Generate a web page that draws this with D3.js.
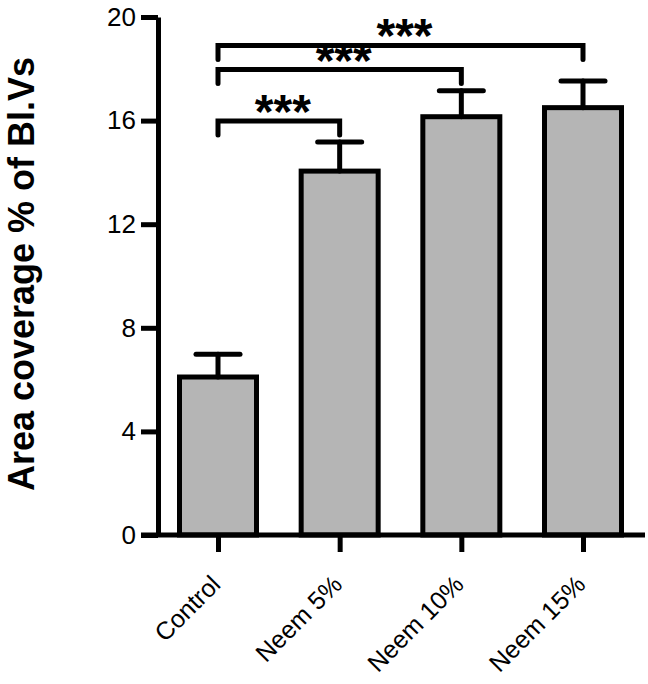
<!DOCTYPE html>
<html><head><meta charset="utf-8">
<script src="https://cdn.jsdelivr.net/npm/d3@7"></script>
<style>body{margin:0;background:#fff}svg{display:block}</style>
</head><body>
<svg id="c" width="648" height="684"></svg>
<script>
const categories = ["Control", "Neem 5%", "Neem 10%", "Neem 15%"];
const means = [6.1, 14.05, 16.15, 16.5];
const errors = [0.88, 1.12, 1.0, 1.03];
const yTicks = [0, 4, 8, 12, 16, 20];
const brackets = [
  {from: "Control", to: "Neem 5%", level: 15.98, label: "***"},
  {from: "Control", to: "Neem 10%", level: 17.97, label: "***"},
  {from: "Control", to: "Neem 15%", level: 18.9, label: "***"}
];
const yTitle = "Area coverage % of Bl.Vs";

const svg = d3.select("#c");
const font = "'Liberation Sans', Arial, sans-serif";
const x = d3.scalePoint().domain(categories).range([218, 583]);
const y = d3.scaleLinear().domain([0, 20]).range([535, 17]);
const barW = 77, sw = 5, capW = 44, drop = 14;

// bars
svg.append("g").selectAll("rect").data(categories).join("rect")
  .attr("x", d => x(d) - barW / 2)
  .attr("y", (d, i) => y(means[i]))
  .attr("width", barW)
  .attr("height", (d, i) => y(0) - y(means[i]))
  .attr("fill", "#b5b5b5").attr("stroke", "#000").attr("stroke-width", sw);

// error bars
const eg = svg.append("g").attr("stroke", "#000").attr("stroke-width", sw).attr("stroke-linecap", "round");
categories.forEach((c, i) => {
  eg.append("line").attr("x1", x(c)).attr("x2", x(c)).attr("y1", y(means[i])).attr("y2", y(means[i] + errors[i]));
  eg.append("line").attr("x1", x(c) - capW / 2).attr("x2", x(c) + capW / 2)
    .attr("y1", y(means[i] + errors[i])).attr("y2", y(means[i] + errors[i]));
});

// y axis
const ya = svg.append("g").attr("transform", "translate(158,0)")
  .call(d3.axisLeft(y).tickValues(yTicks).tickSize(17).tickSizeOuter(0).tickPadding(5).tickFormat(d3.format("d")));
ya.selectAll("path,line").attr("stroke", "#000").attr("stroke-width", sw);
ya.selectAll("text").attr("font-family", font).attr("font-size", 26).attr("fill", "#000");

// x axis
const xa = svg.append("g").attr("transform", "translate(0,535)")
  .call(d3.axisBottom(x).tickSize(17).tickSizeOuter(0).tickFormat(""));
xa.select(".domain").attr("d", "M141,0H645");
xa.selectAll("path,line").attr("stroke", "#000").attr("stroke-width", sw);
xa.selectAll(".tick text").remove();
svg.append("g").selectAll("text").data(categories).join("text")
  .attr("transform", d => `translate(${x(d) + 4},${586}) rotate(-45)`)
  .attr("text-anchor", "end")
  .attr("font-family", font).attr("font-size", 25).attr("fill", "#000")
  .text(d => d);

// y title
svg.append("text")
  .attr("transform", "translate(34,274) rotate(-90)")
  .attr("text-anchor", "middle")
  .attr("font-family", font).attr("font-weight", "bold").attr("font-size", 36).attr("fill", "#000")
  .text(yTitle);

// significance brackets
const bg = svg.append("g");
brackets.forEach(b => {
  const x1 = x(b.from), x2 = x(b.to), yy = y(b.level);
  bg.append("path")
    .attr("d", `M${x1},${yy + drop}V${yy}H${x2}V${yy + drop}`)
    .attr("fill", "none").attr("stroke", "#000").attr("stroke-width", sw).attr("stroke-linecap", "round");
  bg.append("text")
    .attr("x", (x1 + x2) / 2 + 4).attr("y", yy + 7)
    .attr("text-anchor", "middle")
    .attr("font-family", font).attr("font-weight", "bold").attr("font-size", 48).attr("fill", "#000")
    .text(b.label);
});
</script>
</body></html>
